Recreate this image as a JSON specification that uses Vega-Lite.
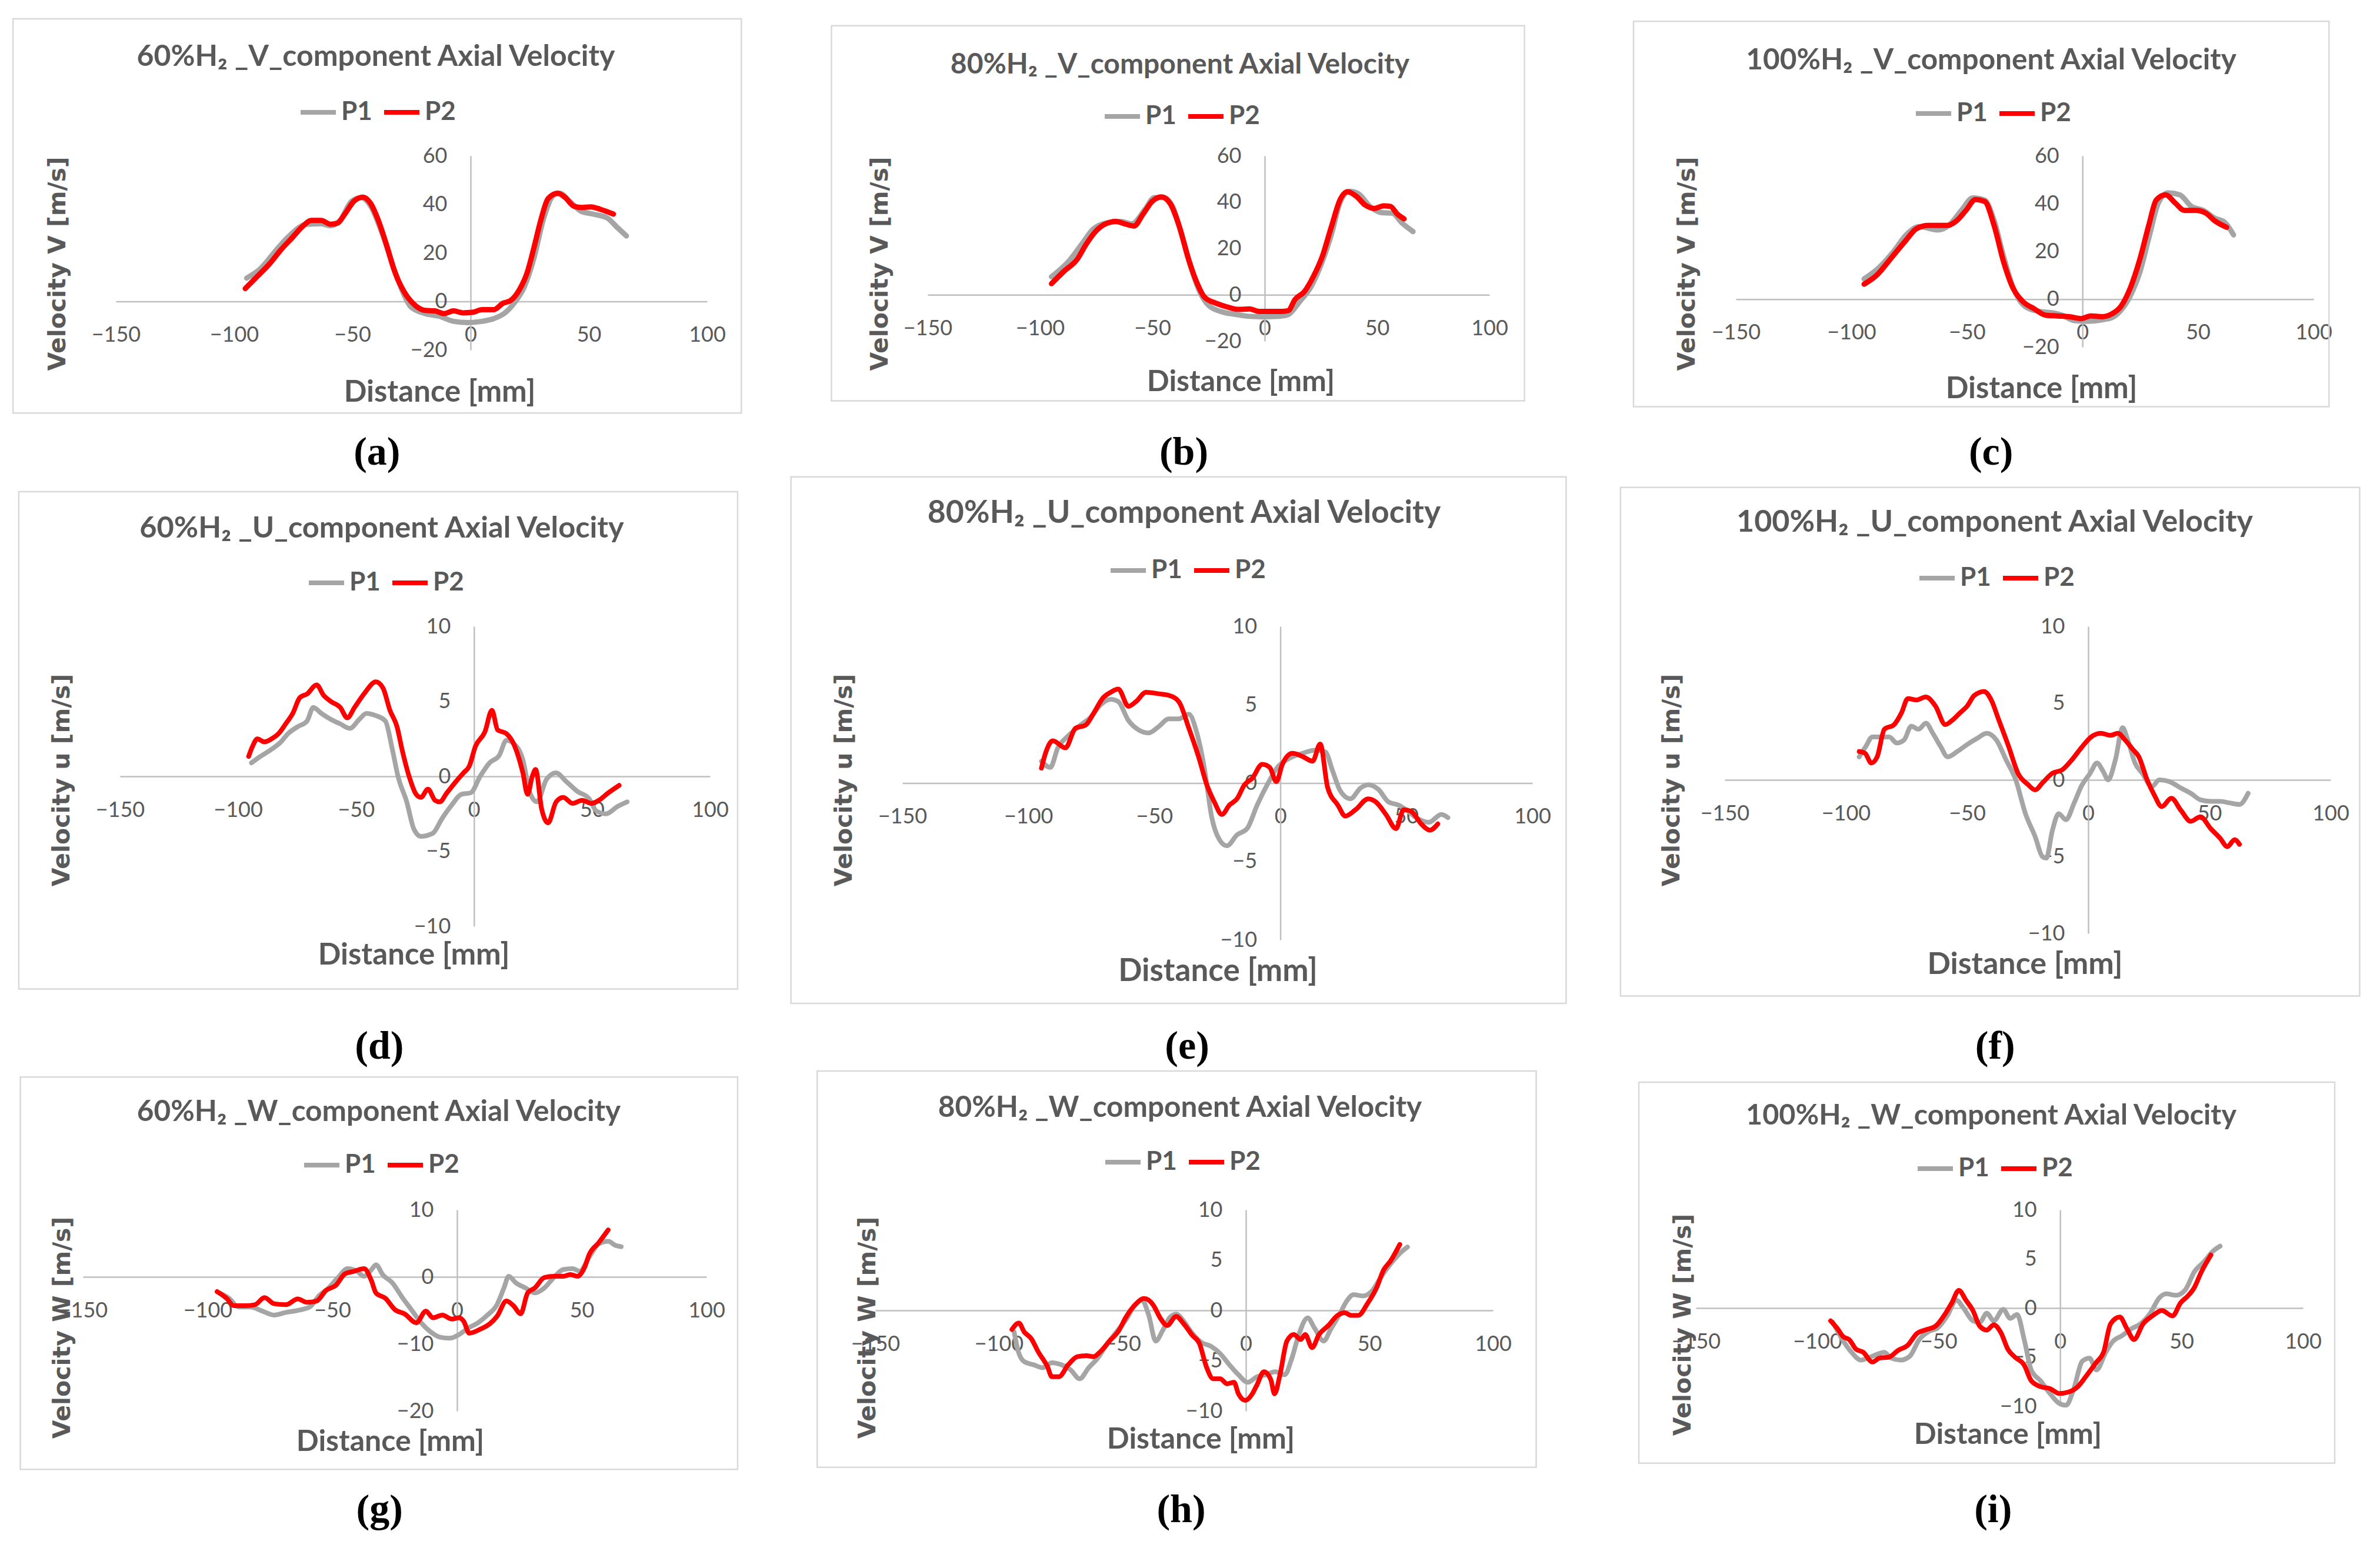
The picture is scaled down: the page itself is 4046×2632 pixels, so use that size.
{
"$schema":"https://vega.github.io/schema/vega-lite/v6.json",
"background":"white",
"padding":{"left":20,"top":30,"right":10,"bottom":10},
"config":{
"view":{"stroke":null},
"font":"Lato",
"title":{"font":"Lato","fontSize":50,"fontWeight":"bold","color":"#595959"},
"axis":{"ticks":false,"tickSize":0,"domainColor":"#bfbfbf","domainWidth":2.5,"gridColor":"#d9d9d9","gridWidth":2,"labelFont":"Lato","labelFontSize":36,"labelColor":"#595959","labelFlush":false,"labelOverlap":false,"titleColor":"#595959"},
"axisX":{"labelPadding":40,"titleFont":"Lato","titleFontSize":51,"titleFontWeight":"bold","titleAlign":"center","titleBaseline":"middle","titleAngle":0},
"axisY":{"labelPadding":40,"titleFont":"DejaVu Sans","titleFontSize":41,"titleFontWeight":"bold","titleAlign":"center","titleBaseline":"middle","titleAngle":-90},
"legend":{"direction":"horizontal","symbolType":"stroke","symbolSize":3600,"symbolStrokeWidth":9,"labelFont":"Lato","labelFontSize":44,"labelFontWeight":"bold","labelColor":"#595959","labelOffset":5,"columnPadding":16,"padding":0},
"line":{"strokeWidth":8,"strokeCap":"round","strokeJoin":"round","interpolate":"monotone"},
"rect":{"filled":false,"color":"#d9d9d9","strokeWidth":2.5},
"text":{"font":"Liberation Serif","fontSize":68,"fontWeight":"bold","color":"#000000","baseline":"middle","align":"center"}
},
"datasets":{
"a":[
{"s":"P1","x":-94.7,"v":9.6},{"s":"P1","x":-89.3,"v":13.1},{"s":"P1","x":-81.3,"v":22.2},{"s":"P1","x":-77.3,"v":26.4},{"s":"P1","x":-69.3,"v":31.8},{"s":"P1","x":-63.2,"v":32},{"s":"P1","x":-59.2,"v":31.2},{"s":"P1","x":-55.2,"v":33.4},{"s":"P1","x":-50.2,"v":41.4},{"s":"P1","x":-46.2,"v":42.7},{"s":"P1","x":-42.2,"v":39.2},{"s":"P1","x":-37.2,"v":27.5},{"s":"P1","x":-33.2,"v":15.8},{"s":"P1","x":-29.2,"v":5.1},{"s":"P1","x":-25.2,"v":-2.3},{"s":"P1","x":-19.2,"v":-5},{"s":"P1","x":-13.2,"v":-6.1},{"s":"P1","x":-7.2,"v":-8.2},{"s":"P1","x":-1.2,"v":-8.7},{"s":"P1","x":4.8,"v":-8.2},{"s":"P1","x":9.8,"v":-7.1},{"s":"P1","x":14.8,"v":-4.5},{"s":"P1","x":18.8,"v":-0.2},{"s":"P1","x":22.8,"v":6.2},{"s":"P1","x":26.8,"v":17.9},{"s":"P1","x":30.8,"v":33.9},{"s":"P1","x":34.8,"v":43.5},{"s":"P1","x":37.8,"v":44.6},{"s":"P1","x":41.8,"v":41.4},{"s":"P1","x":46.8,"v":37.1},{"s":"P1","x":51.8,"v":36},{"s":"P1","x":57.8,"v":34.4},{"s":"P1","x":61.8,"v":30.7},{"s":"P1","x":65.9,"v":27},
{"s":"P2","x":-95.3,"v":5.3},{"s":"P2","x":-90,"v":10.5},{"s":"P2","x":-85,"v":15.5},{"s":"P2","x":-80,"v":21.5},{"s":"P2","x":-75.3,"v":26.4},{"s":"P2","x":-71.3,"v":30.7},{"s":"P2","x":-67.3,"v":33.4},{"s":"P2","x":-63.2,"v":33.4},{"s":"P2","x":-59.2,"v":31.8},{"s":"P2","x":-56.2,"v":32.3},{"s":"P2","x":-53.2,"v":36},{"s":"P2","x":-49.2,"v":41.4},{"s":"P2","x":-45.6,"v":43},{"s":"P2","x":-42.2,"v":40.3},{"s":"P2","x":-39.2,"v":33.9},{"s":"P2","x":-35.2,"v":22.2},{"s":"P2","x":-32.2,"v":12.6},{"s":"P2","x":-28.2,"v":4.1},{"s":"P2","x":-23.2,"v":-1.8},{"s":"P2","x":-19.2,"v":-3.7},{"s":"P2","x":-15.2,"v":-3.9},{"s":"P2","x":-11.2,"v":-5},{"s":"P2","x":-7.2,"v":-3.9},{"s":"P2","x":-3.2,"v":-4.7},{"s":"P2","x":0.8,"v":-4.5},{"s":"P2","x":4.8,"v":-3.4},{"s":"P2","x":9.8,"v":-3.4},{"s":"P2","x":13.8,"v":-0.7},{"s":"P2","x":16.8,"v":0.3},{"s":"P2","x":20.8,"v":5.1},{"s":"P2","x":23.8,"v":11.5},{"s":"P2","x":26.8,"v":22.2},{"s":"P2","x":29.8,"v":33.9},{"s":"P2","x":32.8,"v":42.4},{"s":"P2","x":36.8,"v":44.6},{"s":"P2","x":39.8,"v":43},{"s":"P2","x":43.8,"v":39.2},{"s":"P2","x":46.8,"v":38.7},{"s":"P2","x":50.8,"v":39},{"s":"P2","x":54.8,"v":38},{"s":"P2","x":60.4,"v":36}
],
"b":[
{"s":"P1","x":-94.9,"v":7.8},{"s":"P1","x":-87.4,"v":14.3},{"s":"P1","x":-81.4,"v":21.9},{"s":"P1","x":-76.3,"v":28.4},{"s":"P1","x":-70.3,"v":31.1},{"s":"P1","x":-64.2,"v":31.7},{"s":"P1","x":-59.2,"v":30.6},{"s":"P1","x":-53.1,"v":37.1},{"s":"P1","x":-49.1,"v":42},{"s":"P1","x":-45,"v":42},{"s":"P1","x":-41,"v":38.2},{"s":"P1","x":-37,"v":26.2},{"s":"P1","x":-32.9,"v":12.1},{"s":"P1","x":-28.9,"v":1.3},{"s":"P1","x":-24.8,"v":-4.7},{"s":"P1","x":-18.8,"v":-7.4},{"s":"P1","x":-12.7,"v":-8.5},{"s":"P1","x":-6.7,"v":-9.3},{"s":"P1","x":-0.6,"v":-9.5},{"s":"P1","x":6.5,"v":-9.3},{"s":"P1","x":10.5,"v":-8.5},{"s":"P1","x":15.5,"v":-3},{"s":"P1","x":20.6,"v":3.5},{"s":"P1","x":25.6,"v":14.3},{"s":"P1","x":29.7,"v":26.2},{"s":"P1","x":33.7,"v":40.3},{"s":"P1","x":37.8,"v":44.7},{"s":"P1","x":41.8,"v":43.6},{"s":"P1","x":46.8,"v":38.2},{"s":"P1","x":51.9,"v":35.5},{"s":"P1","x":56.9,"v":35.2},{"s":"P1","x":61,"v":31.1},{"s":"P1","x":66,"v":27.3},
{"s":"P2","x":-94.9,"v":4.8},{"s":"P2","x":-89.5,"v":10},{"s":"P2","x":-83.4,"v":15.4},{"s":"P2","x":-79.4,"v":21.9},{"s":"P2","x":-75.3,"v":27.3},{"s":"P2","x":-71.3,"v":30.4},{"s":"P2","x":-66.2,"v":31.7},{"s":"P2","x":-62.2,"v":30.6},{"s":"P2","x":-58.2,"v":29.7},{"s":"P2","x":-54.1,"v":34.9},{"s":"P2","x":-50.1,"v":40.3},{"s":"P2","x":-46,"v":42.3},{"s":"P2","x":-42,"v":39.3},{"s":"P2","x":-38,"v":29.5},{"s":"P2","x":-33.9,"v":15.4},{"s":"P2","x":-29.9,"v":4.6},{"s":"P2","x":-26.9,"v":-0.9},{"s":"P2","x":-21.8,"v":-3.6},{"s":"P2","x":-16.8,"v":-5.2},{"s":"P2","x":-11.7,"v":-6.3},{"s":"P2","x":-6.7,"v":-6.1},{"s":"P2","x":-2.6,"v":-7.2},{"s":"P2","x":2.4,"v":-7.2},{"s":"P2","x":7.5,"v":-7.2},{"s":"P2","x":10.5,"v":-6.8},{"s":"P2","x":13.5,"v":-2},{"s":"P2","x":17.6,"v":1.3},{"s":"P2","x":21.6,"v":7.8},{"s":"P2","x":25.6,"v":16.5},{"s":"P2","x":29.7,"v":29.5},{"s":"P2","x":33.7,"v":41.4},{"s":"P2","x":36.8,"v":44.5},{"s":"P2","x":40.8,"v":42.5},{"s":"P2","x":44.8,"v":38.7},{"s":"P2","x":48.9,"v":37.3},{"s":"P2","x":52.9,"v":38.4},{"s":"P2","x":55.9,"v":38.2},{"s":"P2","x":59,"v":34.9},{"s":"P2","x":62,"v":32.8}
],
"c":[
{"s":"P1","x":-94.5,"v":8.5},{"s":"P1","x":-88,"v":13.3},{"s":"P1","x":-81.9,"v":19.8},{"s":"P1","x":-75.8,"v":27.4},{"s":"P1","x":-70.7,"v":30.4},{"s":"P1","x":-62.6,"v":29},{"s":"P1","x":-57.5,"v":31.2},{"s":"P1","x":-52.4,"v":37.2},{"s":"P1","x":-47.4,"v":42.4},{"s":"P1","x":-42.3,"v":41.5},{"s":"P1","x":-38.2,"v":32.8},{"s":"P1","x":-34.1,"v":17.7},{"s":"P1","x":-30.1,"v":5.2},{"s":"P1","x":-25,"v":-2.9},{"s":"P1","x":-18.9,"v":-5.1},{"s":"P1","x":-13.8,"v":-5.6},{"s":"P1","x":-8.7,"v":-6.7},{"s":"P1","x":-3.7,"v":-8.9},{"s":"P1","x":2.4,"v":-9.2},{"s":"P1","x":8.5,"v":-8.6},{"s":"P1","x":12.6,"v":-7.8},{"s":"P1","x":16.7,"v":-4.6},{"s":"P1","x":20.7,"v":1.4},{"s":"P1","x":24.8,"v":11.2},{"s":"P1","x":28.9,"v":26.3},{"s":"P1","x":32.9,"v":40.4},{"s":"P1","x":37,"v":44.5},{"s":"P1","x":42.1,"v":43.7},{"s":"P1","x":47.2,"v":38.8},{"s":"P1","x":52.2,"v":37.2},{"s":"P1","x":57.3,"v":33.9},{"s":"P1","x":61.4,"v":32.3},{"s":"P1","x":65.4,"v":26.9},
{"s":"P2","x":-94.5,"v":6.3},{"s":"P2","x":-89,"v":10.1},{"s":"P2","x":-82.9,"v":17.1},{"s":"P2","x":-76.8,"v":24.2},{"s":"P2","x":-71.7,"v":29.6},{"s":"P2","x":-66.7,"v":30.9},{"s":"P2","x":-58.5,"v":30.9},{"s":"P2","x":-54.5,"v":32.8},{"s":"P2","x":-50.4,"v":37.2},{"s":"P2","x":-46.3,"v":41.7},{"s":"P2","x":-42.3,"v":40.9},{"s":"P2","x":-38.2,"v":30.7},{"s":"P2","x":-34.1,"v":15.5},{"s":"P2","x":-30.1,"v":4.7},{"s":"P2","x":-26,"v":-0.8},{"s":"P2","x":-20.9,"v":-4},{"s":"P2","x":-15.9,"v":-6.7},{"s":"P2","x":-10.8,"v":-7},{"s":"P2","x":-5.7,"v":-7.3},{"s":"P2","x":-0.6,"v":-8.1},{"s":"P2","x":3.5,"v":-7},{"s":"P2","x":8.5,"v":-7.3},{"s":"P2","x":12.6,"v":-6.2},{"s":"P2","x":16.7,"v":-2.9},{"s":"P2","x":20.7,"v":4.7},{"s":"P2","x":24.8,"v":16.6},{"s":"P2","x":28.9,"v":31.7},{"s":"P2","x":31.9,"v":41.5},{"s":"P2","x":36,"v":43.7},{"s":"P2","x":40,"v":40.4},{"s":"P2","x":44.1,"v":37.2},{"s":"P2","x":49.2,"v":37.2},{"s":"P2","x":53.3,"v":36.1},{"s":"P2","x":57.3,"v":32.8},{"s":"P2","x":62.4,"v":30.1}
],
"d":[
{"s":"P1","x":-94.3,"v":0.9},{"s":"P1","x":-90.8,"v":1.3},{"s":"P1","x":-85.8,"v":1.8},{"s":"P1","x":-81.8,"v":2.3},{"s":"P1","x":-78.8,"v":2.85},{"s":"P1","x":-74.8,"v":3.3},{"s":"P1","x":-70.7,"v":3.7},{"s":"P1","x":-68.1,"v":4.6},{"s":"P1","x":-64.7,"v":4.2},{"s":"P1","x":-60.7,"v":3.8},{"s":"P1","x":-56.7,"v":3.5},{"s":"P1","x":-52.6,"v":3.2},{"s":"P1","x":-48.6,"v":3.8},{"s":"P1","x":-45.6,"v":4.2},{"s":"P1","x":-41.6,"v":4.05},{"s":"P1","x":-37.6,"v":3.7},{"s":"P1","x":-34.6,"v":1.8},{"s":"P1","x":-32.2,"v":0},{"s":"P1","x":-28.5,"v":-1.7},{"s":"P1","x":-25.5,"v":-3.5},{"s":"P1","x":-22.5,"v":-4},{"s":"P1","x":-17.5,"v":-3.8},{"s":"P1","x":-13.5,"v":-2.8},{"s":"P1","x":-9.4,"v":-1.9},{"s":"P1","x":-5.4,"v":-1.2},{"s":"P1","x":-1.4,"v":-1.1},{"s":"P1","x":2.6,"v":0},{"s":"P1","x":6.6,"v":0.9},{"s":"P1","x":10.7,"v":1.4},{"s":"P1","x":13.7,"v":2.4},{"s":"P1","x":16.7,"v":2.2},{"s":"P1","x":20.7,"v":1.1},{"s":"P1","x":23.7,"v":-1.1},{"s":"P1","x":26.7,"v":-1.7},{"s":"P1","x":30.7,"v":-0.2},{"s":"P1","x":34.8,"v":0.24},{"s":"P1","x":38.8,"v":-0.3},{"s":"P1","x":43.8,"v":-1},{"s":"P1","x":48.8,"v":-1.5},{"s":"P1","x":51.8,"v":-2.3},{"s":"P1","x":55.9,"v":-2.5},{"s":"P1","x":60.9,"v":-2},{"s":"P1","x":64.9,"v":-1.7},
{"s":"P2","x":-95.5,"v":1.33},{"s":"P2","x":-93.9,"v":1.98},{"s":"P2","x":-91.8,"v":2.5},{"s":"P2","x":-88.8,"v":2.3},{"s":"P2","x":-85.8,"v":2.5},{"s":"P2","x":-82.8,"v":2.85},{"s":"P2","x":-79.8,"v":3.5},{"s":"P2","x":-76.8,"v":4.2},{"s":"P2","x":-73.8,"v":5.25},{"s":"P2","x":-70.7,"v":5.5},{"s":"P2","x":-66.7,"v":6.1},{"s":"P2","x":-63.7,"v":5.4},{"s":"P2","x":-60.7,"v":5},{"s":"P2","x":-56.7,"v":4.6},{"s":"P2","x":-53.7,"v":3.9},{"s":"P2","x":-50.6,"v":4.6},{"s":"P2","x":-46.6,"v":5.5},{"s":"P2","x":-41.6,"v":6.3},{"s":"P2","x":-38.6,"v":5.9},{"s":"P2","x":-35.6,"v":4.4},{"s":"P2","x":-32.6,"v":3.3},{"s":"P2","x":-30.5,"v":1.8},{"s":"P2","x":-27.5,"v":0},{"s":"P2","x":-24.5,"v":-1.2},{"s":"P2","x":-22.5,"v":-1.4},{"s":"P2","x":-19.5,"v":-0.85},{"s":"P2","x":-16.5,"v":-1.6},{"s":"P2","x":-14.5,"v":-1.7},{"s":"P2","x":-11.5,"v":-1.1},{"s":"P2","x":-7.4,"v":-0.3},{"s":"P2","x":-4.4,"v":0.24},{"s":"P2","x":-2,"v":0.68},{"s":"P2","x":0.6,"v":2},{"s":"P2","x":4.6,"v":2.96},{"s":"P2","x":7.6,"v":4.4},{"s":"P2","x":10,"v":3.1},{"s":"P2","x":13.7,"v":2.85},{"s":"P2","x":16.7,"v":2.2},{"s":"P2","x":20.7,"v":0.24},{"s":"P2","x":22.7,"v":-1.2},{"s":"P2","x":24.7,"v":0},{"s":"P2","x":26.1,"v":0.46},{"s":"P2","x":28.7,"v":-2.2},{"s":"P2","x":31.4,"v":-3.1},{"s":"P2","x":34.8,"v":-1.7},{"s":"P2","x":37.8,"v":-1.4},{"s":"P2","x":41.8,"v":-1.8},{"s":"P2","x":45.8,"v":-1.6},{"s":"P2","x":49.8,"v":-1.8},{"s":"P2","x":52.9,"v":-1.6},{"s":"P2","x":56.9,"v":-1.1},{"s":"P2","x":61.5,"v":-0.6}
],
"e":[
{"s":"P1","x":-94.8,"v":1.4},{"s":"P1","x":-91.3,"v":1},{"s":"P1","x":-88.3,"v":2.25},{"s":"P1","x":-84.3,"v":3},{"s":"P1","x":-79.3,"v":3.7},{"s":"P1","x":-75.3,"v":4.2},{"s":"P1","x":-71.3,"v":5},{"s":"P1","x":-67.3,"v":5.35},{"s":"P1","x":-64.3,"v":5.2},{"s":"P1","x":-60.3,"v":4},{"s":"P1","x":-56.3,"v":3.4},{"s":"P1","x":-52.3,"v":3.2},{"s":"P1","x":-48.3,"v":3.6},{"s":"P1","x":-44.3,"v":4.1},{"s":"P1","x":-40.3,"v":4.1},{"s":"P1","x":-36.3,"v":4.4},{"s":"P1","x":-33.3,"v":3.3},{"s":"P1","x":-30.2,"v":1},{"s":"P1","x":-27.2,"v":-2.2},{"s":"P1","x":-24.2,"v":-3.6},{"s":"P1","x":-21.2,"v":-4},{"s":"P1","x":-17.2,"v":-3.3},{"s":"P1","x":-13.2,"v":-2.9},{"s":"P1","x":-9.2,"v":-1.4},{"s":"P1","x":-5.2,"v":-0.1},{"s":"P1","x":-1.2,"v":1},{"s":"P1","x":3.8,"v":1.6},{"s":"P1","x":8.8,"v":1.9},{"s":"P1","x":13.8,"v":2.1},{"s":"P1","x":17.8,"v":2},{"s":"P1","x":20.8,"v":0.75},{"s":"P1","x":23.8,"v":-0.5},{"s":"P1","x":27.8,"v":-1},{"s":"P1","x":31.9,"v":-0.3},{"s":"P1","x":34.9,"v":-0.1},{"s":"P1","x":38.9,"v":-0.4},{"s":"P1","x":42.9,"v":-1.2},{"s":"P1","x":46.9,"v":-1.4},{"s":"P1","x":49.9,"v":-1.7},{"s":"P1","x":53.9,"v":-2.2},{"s":"P1","x":58.9,"v":-2.5},{"s":"P1","x":63.9,"v":-2},{"s":"P1","x":66.5,"v":-2.2},
{"s":"P2","x":-94.8,"v":0.96},{"s":"P2","x":-93,"v":2},{"s":"P2","x":-90.3,"v":2.7},{"s":"P2","x":-85.3,"v":2.25},{"s":"P2","x":-81.3,"v":3.5},{"s":"P2","x":-77.3,"v":3.7},{"s":"P2","x":-74.3,"v":4.4},{"s":"P2","x":-70.3,"v":5.45},{"s":"P2","x":-67.3,"v":5.8},{"s":"P2","x":-64.3,"v":6},{"s":"P2","x":-60.3,"v":4.9},{"s":"P2","x":-57.3,"v":5.2},{"s":"P2","x":-53.3,"v":5.8},{"s":"P2","x":-48.3,"v":5.7},{"s":"P2","x":-44.3,"v":5.6},{"s":"P2","x":-40.3,"v":5.2},{"s":"P2","x":-36.3,"v":3.5},{"s":"P2","x":-32.3,"v":1.6},{"s":"P2","x":-29.2,"v":-0.1},{"s":"P2","x":-26.2,"v":-1.2},{"s":"P2","x":-23.2,"v":-2},{"s":"P2","x":-20.2,"v":-1.4},{"s":"P2","x":-17.2,"v":-1},{"s":"P2","x":-14.2,"v":-0.1},{"s":"P2","x":-11.2,"v":0.3},{"s":"P2","x":-7.2,"v":1.2},{"s":"P2","x":-4.2,"v":1},{"s":"P2","x":-1.6,"v":0.1},{"s":"P2","x":0.8,"v":1.2},{"s":"P2","x":4.8,"v":1.9},{"s":"P2","x":8.8,"v":1.7},{"s":"P2","x":12.8,"v":1.4},{"s":"P2","x":15.8,"v":2.5},{"s":"P2","x":18.8,"v":-0.3},{"s":"P2","x":22.8,"v":-1.4},{"s":"P2","x":25.8,"v":-2.1},{"s":"P2","x":29.8,"v":-1.7},{"s":"P2","x":34.9,"v":-1},{"s":"P2","x":37.9,"v":-1.2},{"s":"P2","x":41.9,"v":-2},{"s":"P2","x":45.9,"v":-2.9},{"s":"P2","x":48.9,"v":-1.7},{"s":"P2","x":51.9,"v":-1.8},{"s":"P2","x":55.9,"v":-2.6},{"s":"P2","x":59.3,"v":-3},{"s":"P2","x":62.5,"v":-2.6}
],
"f":[
{"s":"P1","x":-94.5,"v":1.5},{"s":"P1","x":-91.7,"v":2.2},{"s":"P1","x":-89.1,"v":2.8},{"s":"P1","x":-86.1,"v":2.8},{"s":"P1","x":-82.1,"v":2.8},{"s":"P1","x":-79,"v":2.4},{"s":"P1","x":-76,"v":2.6},{"s":"P1","x":-73,"v":3.5},{"s":"P1","x":-70,"v":3.3},{"s":"P1","x":-67,"v":3.7},{"s":"P1","x":-64,"v":3},{"s":"P1","x":-61,"v":2.2},{"s":"P1","x":-58,"v":1.5},{"s":"P1","x":-54,"v":1.85},{"s":"P1","x":-50,"v":2.3},{"s":"P1","x":-45.9,"v":2.7},{"s":"P1","x":-41.9,"v":3.04},{"s":"P1","x":-37.9,"v":2.6},{"s":"P1","x":-33.9,"v":1.3},{"s":"P1","x":-29.9,"v":0},{"s":"P1","x":-25.9,"v":-2.2},{"s":"P1","x":-21.9,"v":-3.7},{"s":"P1","x":-18.9,"v":-5},{"s":"P1","x":-17.3,"v":-5.1},{"s":"P1","x":-14.8,"v":-3.3},{"s":"P1","x":-12.2,"v":-2.2},{"s":"P1","x":-9.2,"v":-2.6},{"s":"P1","x":-5.8,"v":-1.5},{"s":"P1","x":-2.8,"v":-0.4},{"s":"P1","x":0.8,"v":0.43},{"s":"P1","x":3.6,"v":1.1},{"s":"P1","x":6.2,"v":0.54},{"s":"P1","x":8.2,"v":0},{"s":"P1","x":11.2,"v":1.3},{"s":"P1","x":14.2,"v":3.4},{"s":"P1","x":16.3,"v":2.6},{"s":"P1","x":19.3,"v":1.1},{"s":"P1","x":22.3,"v":0.43},{"s":"P1","x":26.3,"v":-0.43},{"s":"P1","x":29.3,"v":0},{"s":"P1","x":33.3,"v":-0.1},{"s":"P1","x":38.3,"v":-0.54},{"s":"P1","x":42.3,"v":-0.87},{"s":"P1","x":46.3,"v":-1.3},{"s":"P1","x":50.4,"v":-1.4},{"s":"P1","x":54.4,"v":-1.4},{"s":"P1","x":58.4,"v":-1.5},{"s":"P1","x":62.4,"v":-1.6},{"s":"P1","x":66,"v":-0.87},
{"s":"P2","x":-94.5,"v":1.85},{"s":"P2","x":-92.1,"v":1.74},{"s":"P2","x":-89.5,"v":1.1},{"s":"P2","x":-87.1,"v":1.5},{"s":"P2","x":-84.1,"v":3.3},{"s":"P2","x":-80.1,"v":3.6},{"s":"P2","x":-77.1,"v":4.35},{"s":"P2","x":-74.4,"v":5.3},{"s":"P2","x":-71,"v":5.2},{"s":"P2","x":-67,"v":5.4},{"s":"P2","x":-63,"v":4.8},{"s":"P2","x":-59,"v":3.6},{"s":"P2","x":-56,"v":3.9},{"s":"P2","x":-53,"v":4.35},{"s":"P2","x":-50,"v":4.8},{"s":"P2","x":-47,"v":5.5},{"s":"P2","x":-43,"v":5.76},{"s":"P2","x":-40,"v":5.2},{"s":"P2","x":-36.9,"v":3.9},{"s":"P2","x":-32.9,"v":2.2},{"s":"P2","x":-28.9,"v":0.4},{"s":"P2","x":-24.9,"v":-0.3},{"s":"P2","x":-21.9,"v":-0.65},{"s":"P2","x":-18.9,"v":-0.2},{"s":"P2","x":-14.8,"v":0.43},{"s":"P2","x":-10.8,"v":0.65},{"s":"P2","x":-6.8,"v":1.3},{"s":"P2","x":-2.8,"v":2.1},{"s":"P2","x":1.2,"v":2.8},{"s":"P2","x":5.2,"v":3.04},{"s":"P2","x":9.2,"v":2.9},{"s":"P2","x":12.2,"v":3.04},{"s":"P2","x":15.2,"v":2.6},{"s":"P2","x":18.3,"v":2},{"s":"P2","x":20.9,"v":1.5},{"s":"P2","x":24.3,"v":0},{"s":"P2","x":27.3,"v":-1},{"s":"P2","x":30.3,"v":-1.74},{"s":"P2","x":34.3,"v":-1.2},{"s":"P2","x":38.3,"v":-2},{"s":"P2","x":42.3,"v":-2.7},{"s":"P2","x":46.3,"v":-2.4},{"s":"P2","x":50.4,"v":-3.15},{"s":"P2","x":54.4,"v":-3.8},{"s":"P2","x":57.4,"v":-4.35},{"s":"P2","x":60.4,"v":-3.9},{"s":"P2","x":62.4,"v":-4.2}
],
"g":[
{"s":"P1","x":-95.2,"v":-2.4},{"s":"P1","x":-91.4,"v":-3.2},{"s":"P1","x":-87.6,"v":-4.5},{"s":"P1","x":-82.9,"v":-4.5},{"s":"P1","x":-78.1,"v":-5.1},{"s":"P1","x":-73.4,"v":-5.7},{"s":"P1","x":-68.6,"v":-5.3},{"s":"P1","x":-63.9,"v":-5},{"s":"P1","x":-59.1,"v":-4.5},{"s":"P1","x":-55.3,"v":-2.8},{"s":"P1","x":-51.5,"v":-1.65},{"s":"P1","x":-47.7,"v":-0.1},{"s":"P1","x":-43.9,"v":1.23},{"s":"P1","x":-40.1,"v":0.85},{"s":"P1","x":-37.3,"v":0.08},{"s":"P1","x":-34.4,"v":1.04},{"s":"P1","x":-32.5,"v":1.8},{"s":"P1","x":-29.7,"v":0.27},{"s":"P1","x":-25.9,"v":-0.9},{"s":"P1","x":-22.1,"v":-3},{"s":"P1","x":-18.3,"v":-4.9},{"s":"P1","x":-14.4,"v":-6.85},{"s":"P1","x":-10.6,"v":-8.2},{"s":"P1","x":-6.8,"v":-9},{"s":"P1","x":-3,"v":-9.15},{"s":"P1","x":0.8,"v":-8.6},{"s":"P1","x":4.6,"v":-7.6},{"s":"P1","x":8.4,"v":-6.85},{"s":"P1","x":12.2,"v":-5.7},{"s":"P1","x":16,"v":-4.15},{"s":"P1","x":18.8,"v":-1.65},{"s":"P1","x":20.7,"v":0.08},{"s":"P1","x":23.6,"v":-0.9},{"s":"P1","x":27.4,"v":-1.65},{"s":"P1","x":31.2,"v":-2.4},{"s":"P1","x":35,"v":-1.65},{"s":"P1","x":38.8,"v":-0.1},{"s":"P1","x":42.6,"v":1.1},{"s":"P1","x":46.4,"v":1.23},{"s":"P1","x":49.2,"v":0.85},{"s":"P1","x":53,"v":2.96},{"s":"P1","x":56.8,"v":4.9},{"s":"P1","x":60.6,"v":5.3},{"s":"P1","x":63.5,"v":4.7},{"s":"P1","x":65.8,"v":4.5},
{"s":"P2","x":-96.2,"v":-2.2},{"s":"P2","x":-92.4,"v":-3.2},{"s":"P2","x":-89.5,"v":-4.3},{"s":"P2","x":-84.8,"v":-4.3},{"s":"P2","x":-81,"v":-4.15},{"s":"P2","x":-77.2,"v":-3.1},{"s":"P2","x":-73.4,"v":-4},{"s":"P2","x":-68.6,"v":-4.15},{"s":"P2","x":-63.9,"v":-3.3},{"s":"P2","x":-60.1,"v":-3.8},{"s":"P2","x":-56.3,"v":-3.6},{"s":"P2","x":-52.5,"v":-2},{"s":"P2","x":-48.7,"v":-1.3},{"s":"P2","x":-44.9,"v":0.46},{"s":"P2","x":-41.1,"v":0.85},{"s":"P2","x":-37.3,"v":1.23},{"s":"P2","x":-34.4,"v":-0.5},{"s":"P2","x":-32.5,"v":-2.4},{"s":"P2","x":-28.7,"v":-3.2},{"s":"P2","x":-24.9,"v":-4.9},{"s":"P2","x":-21.1,"v":-5.5},{"s":"P2","x":-16.3,"v":-6.85},{"s":"P2","x":-12.5,"v":-5.1},{"s":"P2","x":-9.7,"v":-6.1},{"s":"P2","x":-5.9,"v":-5.7},{"s":"P2","x":-2.1,"v":-6.3},{"s":"P2","x":0.8,"v":-6.1},{"s":"P2","x":2.7,"v":-6.65},{"s":"P2","x":4.9,"v":-8.4},{"s":"P2","x":9.3,"v":-7.8},{"s":"P2","x":13.1,"v":-7},{"s":"P2","x":16,"v":-5.9},{"s":"P2","x":19.8,"v":-3.6},{"s":"P2","x":22.6,"v":-4.3},{"s":"P2","x":25.5,"v":-5.5},{"s":"P2","x":28.3,"v":-2.4},{"s":"P2","x":31.2,"v":-1.65},{"s":"P2","x":35,"v":-0.1},{"s":"P2","x":38.8,"v":0.08},{"s":"P2","x":42.6,"v":0.08},{"s":"P2","x":45.4,"v":0.35},{"s":"P2","x":48.3,"v":0.08},{"s":"P2","x":51.1,"v":1.4},{"s":"P2","x":53,"v":3.35},{"s":"P2","x":56.8,"v":5.1},{"s":"P2","x":60.6,"v":7}
],
"h":[
{"s":"P1","x":-93.8,"v":-2.15},{"s":"P1","x":-92.1,"v":-4.1},{"s":"P1","x":-89.7,"v":-5.1},{"s":"P1","x":-86,"v":-5.4},{"s":"P1","x":-82.2,"v":-5.7},{"s":"P1","x":-78.5,"v":-5.2},{"s":"P1","x":-74.8,"v":-5.4},{"s":"P1","x":-71,"v":-5.9},{"s":"P1","x":-67.3,"v":-6.8},{"s":"P1","x":-63.6,"v":-5.7},{"s":"P1","x":-59.8,"v":-4.7},{"s":"P1","x":-56.1,"v":-3.3},{"s":"P1","x":-52.4,"v":-2.15},{"s":"P1","x":-48.7,"v":-1},{"s":"P1","x":-44.9,"v":0.54},{"s":"P1","x":-42.1,"v":1.05},{"s":"P1","x":-39.3,"v":-0.5},{"s":"P1","x":-36.5,"v":-3.05},{"s":"P1","x":-33.7,"v":-2},{"s":"P1","x":-30.9,"v":-0.74},{"s":"P1","x":-28.2,"v":-0.36},{"s":"P1","x":-25.4,"v":-1},{"s":"P1","x":-21.6,"v":-2.3},{"s":"P1","x":-17.9,"v":-3.2},{"s":"P1","x":-14.2,"v":-3.56},{"s":"P1","x":-10.4,"v":-4.3},{"s":"P1","x":-6.7,"v":-5.4},{"s":"P1","x":-3,"v":-6.4},{"s":"P1","x":0.7,"v":-7.15},{"s":"P1","x":4.5,"v":-6.6},{"s":"P1","x":8.2,"v":-6.4},{"s":"P1","x":11.9,"v":-6.1},{"s":"P1","x":15.7,"v":-6.4},{"s":"P1","x":18.5,"v":-4.85},{"s":"P1","x":21.3,"v":-2.5},{"s":"P1","x":25,"v":-0.74},{"s":"P1","x":27.8,"v":-1.77},{"s":"P1","x":31.5,"v":-3.05},{"s":"P1","x":34.3,"v":-1.9},{"s":"P1","x":38,"v":-0.36},{"s":"P1","x":40.8,"v":0.92},{"s":"P1","x":43.6,"v":1.56},{"s":"P1","x":47.4,"v":1.44},{"s":"P1","x":51.1,"v":1.95},{"s":"P1","x":54.8,"v":3.36},{"s":"P1","x":58.5,"v":4.6},{"s":"P1","x":62.3,"v":5.67},{"s":"P1","x":65.4,"v":6.3},
{"s":"P2","x":-94.7,"v":-1.9},{"s":"P2","x":-91.9,"v":-1.26},{"s":"P2","x":-89.7,"v":-2.15},{"s":"P2","x":-86.9,"v":-2.8},{"s":"P2","x":-84.1,"v":-4.1},{"s":"P2","x":-80.3,"v":-5.6},{"s":"P2","x":-78.5,"v":-6.6},{"s":"P2","x":-75.7,"v":-6.6},{"s":"P2","x":-71.9,"v":-5.4},{"s":"P2","x":-68.2,"v":-4.6},{"s":"P2","x":-64.5,"v":-4.5},{"s":"P2","x":-61.7,"v":-4.6},{"s":"P2","x":-58.9,"v":-4.1},{"s":"P2","x":-55.2,"v":-3.05},{"s":"P2","x":-51.4,"v":-2},{"s":"P2","x":-48.7,"v":-0.74},{"s":"P2","x":-44.9,"v":0.54},{"s":"P2","x":-41.2,"v":1.18},{"s":"P2","x":-37.5,"v":0.54},{"s":"P2","x":-34.7,"v":-0.74},{"s":"P2","x":-31.9,"v":-1.5},{"s":"P2","x":-28.2,"v":-0.6},{"s":"P2","x":-25.4,"v":-1.26},{"s":"P2","x":-21.6,"v":-2.5},{"s":"P2","x":-18.8,"v":-3.3},{"s":"P2","x":-16,"v":-5.6},{"s":"P2","x":-13.2,"v":-6.8},{"s":"P2","x":-10.4,"v":-6.8},{"s":"P2","x":-7.6,"v":-7.3},{"s":"P2","x":-4.8,"v":-7.15},{"s":"P2","x":-3,"v":-8.3},{"s":"P2","x":-0.2,"v":-8.95},{"s":"P2","x":2.6,"v":-8.3},{"s":"P2","x":4.5,"v":-7.4},{"s":"P2","x":7.3,"v":-6.1},{"s":"P2","x":10.1,"v":-6.9},{"s":"P2","x":11.6,"v":-8.3},{"s":"P2","x":13.8,"v":-6.4},{"s":"P2","x":16.6,"v":-3.05},{"s":"P2","x":19.4,"v":-2.4},{"s":"P2","x":22.2,"v":-2.9},{"s":"P2","x":24,"v":-2.4},{"s":"P2","x":26.8,"v":-3.7},{"s":"P2","x":29.6,"v":-2.4},{"s":"P2","x":33.4,"v":-1.5},{"s":"P2","x":37.1,"v":-0.5},{"s":"P2","x":39.9,"v":-0.23},{"s":"P2","x":42.7,"v":-0.5},{"s":"P2","x":45.5,"v":-0.5},{"s":"P2","x":49.2,"v":0.67},{"s":"P2","x":53,"v":2.3},{"s":"P2","x":55.7,"v":4},{"s":"P2","x":58.5,"v":4.9},{"s":"P2","x":62.3,"v":6.56}
],
"i":[
{"s":"P1","x":-93.6,"v":-1.45},{"s":"P1","x":-89.7,"v":-3.2},{"s":"P1","x":-85.9,"v":-4.5},{"s":"P1","x":-82.1,"v":-5.3},{"s":"P1","x":-78.2,"v":-5},{"s":"P1","x":-75.3,"v":-4.7},{"s":"P1","x":-72.4,"v":-4.5},{"s":"P1","x":-69.6,"v":-5.1},{"s":"P1","x":-65.7,"v":-5.3},{"s":"P1","x":-61.9,"v":-4.9},{"s":"P1","x":-58,"v":-3.2},{"s":"P1","x":-54.2,"v":-2.4},{"s":"P1","x":-50.3,"v":-2},{"s":"P1","x":-46.5,"v":-0.8},{"s":"P1","x":-42.7,"v":0.8},{"s":"P1","x":-39.8,"v":0},{"s":"P1","x":-35.9,"v":-1.3},{"s":"P1","x":-33.1,"v":-1.45},{"s":"P1","x":-30.2,"v":-0.53},{"s":"P1","x":-27.3,"v":-1.3},{"s":"P1","x":-23.4,"v":-0.13},{"s":"P1","x":-20.6,"v":-1.05},{"s":"P1","x":-17.7,"v":-0.66},{"s":"P1","x":-14.8,"v":-3.2},{"s":"P1","x":-11.9,"v":-6.3},{"s":"P1","x":-8.1,"v":-7.4},{"s":"P1","x":-4.2,"v":-8.7},{"s":"P1","x":-0.4,"v":-9.7},{"s":"P1","x":2.5,"v":-9.9},{"s":"P1","x":5.4,"v":-8.4},{"s":"P1","x":9.2,"v":-5.4},{"s":"P1","x":12.1,"v":-5.1},{"s":"P1","x":15,"v":-6.3},{"s":"P1","x":18.8,"v":-4.5},{"s":"P1","x":21.7,"v":-3.4},{"s":"P1","x":25.6,"v":-2.8},{"s":"P1","x":29.4,"v":-2.1},{"s":"P1","x":33.2,"v":-1.6},{"s":"P1","x":37.1,"v":-0.53},{"s":"P1","x":40.9,"v":1.05},{"s":"P1","x":43.8,"v":1.45},{"s":"P1","x":47.7,"v":1.3},{"s":"P1","x":51.5,"v":1.84},{"s":"P1","x":55.3,"v":3.7},{"s":"P1","x":59.2,"v":4.7},{"s":"P1","x":63,"v":5.8},{"s":"P1","x":65.9,"v":6.3},
{"s":"P2","x":-94.5,"v":-1.3},{"s":"P2","x":-91.7,"v":-2.1},{"s":"P2","x":-89.4,"v":-2.9},{"s":"P2","x":-86.9,"v":-3.2},{"s":"P2","x":-84,"v":-4.2},{"s":"P2","x":-81.1,"v":-4.5},{"s":"P2","x":-77.3,"v":-5.5},{"s":"P2","x":-74.4,"v":-5.1},{"s":"P2","x":-70.5,"v":-5},{"s":"P2","x":-66.7,"v":-4.3},{"s":"P2","x":-62.8,"v":-3.8},{"s":"P2","x":-59,"v":-2.6},{"s":"P2","x":-55.2,"v":-2.2},{"s":"P2","x":-51.3,"v":-1.84},{"s":"P2","x":-47.5,"v":-0.66},{"s":"P2","x":-44.6,"v":0.53},{"s":"P2","x":-41.7,"v":1.8},{"s":"P2","x":-38.8,"v":0.8},{"s":"P2","x":-35.9,"v":-0.26},{"s":"P2","x":-33.1,"v":-1.84},{"s":"P2","x":-30.2,"v":-2.24},{"s":"P2","x":-27.3,"v":-1.7},{"s":"P2","x":-24.4,"v":-2.5},{"s":"P2","x":-21.5,"v":-4.2},{"s":"P2","x":-18.6,"v":-5},{"s":"P2","x":-14.8,"v":-5.8},{"s":"P2","x":-11.9,"v":-7.4},{"s":"P2","x":-8.1,"v":-8},{"s":"P2","x":-4.2,"v":-8.2},{"s":"P2","x":-0.4,"v":-8.7},{"s":"P2","x":3.5,"v":-8.55},{"s":"P2","x":7.3,"v":-8},{"s":"P2","x":11.1,"v":-6.8},{"s":"P2","x":15,"v":-5.5},{"s":"P2","x":17.9,"v":-4.5},{"s":"P2","x":20.8,"v":-1.6},{"s":"P2","x":24.6,"v":-0.92},{"s":"P2","x":27.5,"v":-2.1},{"s":"P2","x":30.4,"v":-3.2},{"s":"P2","x":34.2,"v":-1.6},{"s":"P2","x":38,"v":-0.8},{"s":"P2","x":41.9,"v":-0.26},{"s":"P2","x":46.3,"v":-0.8},{"s":"P2","x":49.6,"v":0.53},{"s":"P2","x":52.5,"v":1.2},{"s":"P2","x":55.3,"v":2.1},{"s":"P2","x":58.2,"v":3.7},{"s":"P2","x":62.1,"v":5.4}
]
},
"spacing":4,
"resolve":{"scale":{"color":"independent"},"legend":{"color":"independent"}},
"vconcat":[
{"hconcat":[
{"width":1061,"height":330,"title":{"text":"60%H₂ _V_component Axial Velocity","dx":-32.5,"offset":-91.3,"fontSize":50},
"layer":[
{"data":{"values":[{"frame":"chart area"}]},"mark":{"type":"rect"},"encoding":{"x":{"datum":-193.5,"type":"quantitative"},"x2":{"datum":114.5},"y":{"datum":116.5,"type":"quantitative"},"y2":{"datum":-46}}},
{"data":{"name":"a"},"mark":{"type":"line","strokeWidth":9},"encoding":{
"x":{"field":"x","type":"quantitative","scale":{"domain":[-150,100],"nice":false,"zero":false,"range":[56,1061]},"axis":{"values":[-150,-100,-50,0,50,100],"offset":-82.5,"title":"Distance [mm]","titleX":606,"titleY":154.5,"titleFontSize":51}},
"y":{"field":"v","type":"quantitative","scale":{"domain":[-20,60],"nice":false,"zero":false},"axis":{"values":[-20,0,20,40,60],"offset":-659,"title":"Velocity V [m/s]","titleX":-702,"titleY":183}},
"color":{"field":"s","type":"nominal","scale":{"domain":["P1","P2"],"range":["#a5a5a5","#ff0000"]},"legend":{"orient":"none","legendX":366,"legendY":-108,"title":null}}}},
{"data":{"values":[{"caption":"(a)"}]},"mark":{"type":"text"},
"encoding":{"x":{"datum":-39.6,"type":"quantitative"},"y":{"datum":-62.4,"type":"quantitative"},"text":{"field":"caption"}}}
]},
{"width":999,"height":315,"title":{"text":"80%H₂ _V_component Axial Velocity","dx":-70.5,"offset":-92.5,"fontSize":48},
"layer":[
{"data":{"values":[{"frame":"chart area"}]},"mark":{"type":"rect"},"encoding":{"x":{"datum":-192.8,"type":"quantitative"},"x2":{"datum":115.6},"y":{"datum":116.2,"type":"quantitative"},"y2":{"datum":-45.8}}},
{"data":{"name":"b"},"mark":{"type":"line","strokeWidth":9},"encoding":{
"x":{"field":"x","type":"quantitative","scale":{"domain":[-150,100],"nice":false,"zero":false,"range":[0,955]},"axis":{"values":[-150,-100,-50,0,50,100],"offset":-78.75,"title":"Distance [mm]","titleX":532,"titleY":147.75,"titleFontSize":50}},
"y":{"field":"v","type":"quantitative","scale":{"domain":[-20,60],"nice":false,"zero":false},"axis":{"values":[-20,0,20,40,60],"offset":-573,"title":"Velocity V [m/s]","titleX":-653.6,"titleY":183}},
"color":{"field":"s","type":"nominal","scale":{"domain":["P1","P2"],"range":["#a5a5a5","#ff0000"]},"legend":{"orient":"none","legendX":297,"legendY":-101,"title":null}}}},
{"data":{"values":[{"caption":"(b)"}]},"mark":{"type":"text"},
"encoding":{"x":{"datum":-36,"type":"quantitative"},"y":{"datum":-68.3,"type":"quantitative"},"text":{"field":"caption"}}}
]},
{"width":982,"height":325,"title":{"text":"100%H₂ _V_component Axial Velocity","dx":-57,"offset":-93,"fontSize":49.5},
"layer":[
{"data":{"values":[{"frame":"chart area"}]},"mark":{"type":"rect"},"encoding":{"x":{"datum":-194.3,"type":"quantitative"},"x2":{"datum":106.7},"y":{"datum":116.3,"type":"quantitative"},"y2":{"datum":-45}}},
{"data":{"name":"c"},"mark":{"type":"line","strokeWidth":9},"encoding":{
"x":{"field":"x","type":"quantitative","scale":{"domain":[-150,100],"nice":false,"zero":false},"axis":{"values":[-150,-100,-50,0,50,100],"offset":-81.25,"title":"Distance [mm]","titleX":519,"titleY":152.25,"titleFontSize":51}},
"y":{"field":"v","type":"quantitative","scale":{"domain":[-20,60],"nice":false,"zero":false},"axis":{"values":[-20,0,20,40,60],"offset":-589.2,"title":"Velocity V [m/s]","titleX":-672,"titleY":183}},
"color":{"field":"s","type":"nominal","scale":{"domain":["P1","P2"],"range":["#a5a5a5","#ff0000"]},"legend":{"orient":"none","legendX":302,"legendY":-106,"title":null}}}},
{"data":{"values":[{"caption":"(c)"}]},"mark":{"type":"text"},
"encoding":{"x":{"datum":-39.6,"type":"quantitative"},"y":{"datum":-64.3,"type":"quantitative"},"text":{"field":"caption"}}}
]}
],"spacing":375,"bounds":"flush","resolve":{"scale":{"color":"independent"},"legend":{"color":"independent"}}},
{"hconcat":[
{"width":1066,"height":510,"title":{"text":"60%H₂ _U_component Axial Velocity","dx":-25,"offset":-90.2,"fontSize":50.5},
"layer":[
{"data":{"values":[{"frame":"chart area"}]},"mark":{"type":"rect"},"encoding":{"x":{"datum":-192.9,"type":"quantitative"},"x2":{"datum":111.7},"y":{"datum":18.98,"type":"quantitative"},"y2":{"datum":-14.18}}},
{"data":{"name":"d"},"mark":{"type":"line"},"encoding":{
"x":{"field":"x","type":"quantitative","scale":{"domain":[-150,100],"nice":false,"zero":false,"range":[63,1066]},"axis":{"values":[-150,-100,-50,0,50,100],"offset":-255,"title":"Distance [mm]","titleX":562,"titleY":304,"titleFontSize":51}},
"y":{"field":"v","type":"quantitative","scale":{"domain":[-10,10],"nice":false,"zero":false},"axis":{"values":[-10,-5,0,5,10],"offset":-664.8,"title":"Velocity u [m/s]","titleX":-700,"titleY":261}},
"color":{"field":"s","type":"nominal","scale":{"domain":["P1","P2"],"range":["#a5a5a5","#ff0000"]},"legend":{"orient":"none","legendX":380,"legendY":-108,"title":null}}}},
{"data":{"values":[{"caption":"(d)"}]},"mark":{"type":"text"},
"encoding":{"x":{"datum":-40.1,"type":"quantitative"},"y":{"datum":-18.04,"type":"quantitative"},"text":{"field":"caption"}}}
]},
{"width":1071,"height":533,"title":{"text":"80%H₂ _U_component Axial Velocity","dx":-56.5,"offset":-90.5,"fontSize":53.5},
"layer":[
{"data":{"values":[{"frame":"chart area"}]},"mark":{"type":"rect"},"encoding":{"x":{"datum":-194.2,"type":"quantitative"},"x2":{"datum":113.4},"y":{"datum":19.54,"type":"quantitative"},"y2":{"datum":-14.05}}},
{"data":{"name":"e"},"mark":{"type":"line"},"encoding":{
"x":{"field":"x","type":"quantitative","scale":{"domain":[-150,100],"nice":false,"zero":false},"axis":{"values":[-150,-100,-50,0,50,100],"offset":-266.5,"title":"Distance [mm]","titleX":536,"titleY":320,"titleFontSize":53}},
"y":{"field":"v","type":"quantitative","scale":{"domain":[-10,10],"nice":false,"zero":false},"axis":{"values":[-10,-5,0,5,10],"offset":-642.6,"title":"Velocity u [m/s]","titleX":-741,"titleY":261}},
"color":{"field":"s","type":"nominal","scale":{"domain":["P1","P2"],"range":["#a5a5a5","#ff0000"]},"legend":{"orient":"none","legendX":350,"legendY":-129,"title":null}}}},
{"data":{"values":[{"caption":"(e)"}]},"mark":{"type":"text"},
"encoding":{"x":{"datum":-37,"type":"quantitative"},"y":{"datum":-16.83,"type":"quantitative"},"text":{"field":"caption"}}}
]},
{"width":1030,"height":522,"title":{"text":"100%H₂ _U_component Axial Velocity","dx":-56,"offset":-87.5,"fontSize":52},
"layer":[
{"data":{"values":[{"frame":"chart area"}]},"mark":{"type":"rect"},"encoding":{"x":{"datum":-193,"type":"quantitative"},"x2":{"datum":112},"y":{"datum":19.05,"type":"quantitative"},"y2":{"datum":-14.08}}},
{"data":{"name":"f"},"mark":{"type":"line"},"encoding":{
"x":{"field":"x","type":"quantitative","scale":{"domain":[-150,100],"nice":false,"zero":false},"axis":{"values":[-150,-100,-50,0,50,100],"offset":-261,"title":"Distance [mm]","titleX":510,"titleY":313,"titleFontSize":52}},
"y":{"field":"v","type":"quantitative","scale":{"domain":[-10,10],"nice":false,"zero":false},"axis":{"values":[-10,-5,0,5,10],"offset":-618,"title":"Velocity u [m/s]","titleX":-708,"titleY":261}},
"color":{"field":"s","type":"nominal","scale":{"domain":["P1","P2"],"range":["#a5a5a5","#ff0000"]},"legend":{"orient":"none","legendX":327,"legendY":-116,"title":null}}}},
{"data":{"values":[{"caption":"(f)"}]},"mark":{"type":"text"},
"encoding":{"x":{"datum":-38.4,"type":"quantitative"},"y":{"datum":-17.39,"type":"quantitative"},"text":{"field":"caption"}}}
]}
],"spacing":327,"bounds":"flush","resolve":{"scale":{"color":"independent"},"legend":{"color":"independent"}}},
{"hconcat":[
{"width":1060,"height":342,"title":{"text":"60%H₂ _W_component Axial Velocity","dx":-27,"offset":-86,"fontSize":49.5},
"layer":[
{"data":{"values":[{"frame":"chart area"}]},"mark":{"type":"rect"},"encoding":{"x":{"datum":-175.1,"type":"quantitative"},"x2":{"datum":112.5},"y":{"datum":29.8,"type":"quantitative"},"y2":{"datum":-28.7}}},
{"data":{"name":"g"},"mark":{"type":"line"},"encoding":{
"x":{"field":"x","type":"quantitative","scale":{"domain":[-150,100],"nice":false,"zero":false},"axis":{"values":[-150,-100,-50,0,50,100],"offset":-228,"title":"Distance [mm]","titleX":522,"titleY":280,"titleFontSize":50}},
"y":{"field":"v","type":"quantitative","scale":{"domain":[-20,10],"nice":false,"zero":false},"axis":{"values":[-20,-10,0,10],"offset":-636,"title":"Velocity W [m/s]","titleX":-671,"titleY":200}},
"color":{"field":"s","type":"nominal","scale":{"domain":["P1","P2"],"range":["#a5a5a5","#ff0000"]},"legend":{"orient":"none","legendX":372,"legendY":-110,"title":null}}}},
{"data":{"values":[{"caption":"(g)"}]},"mark":{"type":"text"},
"encoding":{"x":{"datum":-31.1,"type":"quantitative"},"y":{"datum":-34.82,"type":"quantitative"},"text":{"field":"caption"}}}
]},
{"width":1108,"height":342,"title":{"text":"80%H₂ _W_component Axial Velocity","dx":-36,"offset":-90.2,"fontSize":49.5},
"layer":[
{"data":{"values":[{"frame":"chart area"}]},"mark":{"type":"rect"},"encoding":{"x":{"datum":-173.5,"type":"quantitative"},"x2":{"datum":117.5},"y":{"datum":23.8,"type":"quantitative"},"y2":{"datum":-15.6}}},
{"data":{"name":"h"},"mark":{"type":"line"},"encoding":{
"x":{"field":"x","type":"quantitative","scale":{"domain":[-150,100],"nice":false,"zero":false,"range":[0,1050]},"axis":{"values":[-150,-100,-50,0,50,100],"offset":-171,"title":"Distance [mm]","titleX":553,"titleY":219,"titleFontSize":50}},
"y":{"field":"v","type":"quantitative","scale":{"domain":[-10,10],"nice":false,"zero":false},"axis":{"values":[-10,-5,0,5,10],"offset":-630,"title":"Velocity W [m/s]","titleX":-642.6,"titleY":200}},
"color":{"field":"s","type":"nominal","scale":{"domain":["P1","P2"],"range":["#a5a5a5","#ff0000"]},"legend":{"orient":"none","legendX":387,"legendY":-115,"title":null}}}},
{"data":{"values":[{"caption":"(h)"}]},"mark":{"type":"text"},
"encoding":{"x":{"datum":-26.2,"type":"quantitative"},"y":{"datum":-19.88,"type":"quantitative"},"text":{"field":"caption"}}}
]},
{"width":1032,"height":334,"title":{"text":"100%H₂ _W_component Axial Velocity","dx":-14,"offset":-84.3,"fontSize":48.5},
"layer":[
{"data":{"values":[{"frame":"chart area"}]},"mark":{"type":"rect"},"encoding":{"x":{"datum":-173.5,"type":"quantitative"},"x2":{"datum":113.1},"y":{"datum":23,"type":"quantitative"},"y2":{"datum":-15.8}}},
{"data":{"name":"i"},"mark":{"type":"line"},"encoding":{
"x":{"field":"x","type":"quantitative","scale":{"domain":[-150,100],"nice":false,"zero":false},"axis":{"values":[-150,-100,-50,0,50,100],"offset":-167,"title":"Distance [mm]","titleX":530,"titleY":215,"titleFontSize":50}},
"y":{"field":"v","type":"quantitative","scale":{"domain":[-10,10],"nice":false,"zero":false},"axis":{"values":[-10,-5,0,5,10],"offset":-619.2,"title":"Velocity W [m/s]","titleX":-641,"titleY":195}},
"color":{"field":"s","type":"nominal","scale":{"domain":["P1","P2"],"range":["#a5a5a5","#ff0000"]},"legend":{"orient":"none","legendX":373,"legendY":-104,"title":null}}}},
{"data":{"values":[{"caption":"(i)"}]},"mark":{"type":"text"},
"encoding":{"x":{"datum":-27.6,"type":"quantitative"},"y":{"datum":-20.6,"type":"quantitative"},"text":{"field":"caption"}}}
]}
],"spacing":287,"bounds":"flush","resolve":{"scale":{"color":"independent"},"legend":{"color":"independent"}}}
]
}
